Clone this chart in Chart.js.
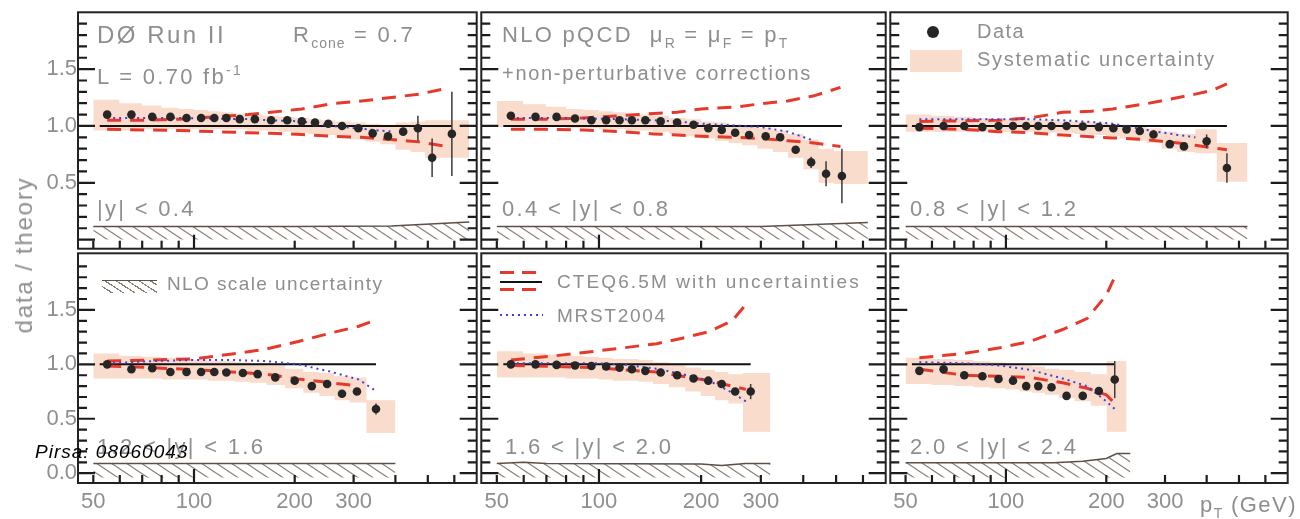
<!DOCTYPE html>
<html>
<head>
<meta charset="utf-8">
<script src="https://cdn.jsdelivr.net/npm/chart.js@4.4.1/dist/chart.umd.min.js"></script>
<style>
  body { margin: 0; background: #fff; }
  #wrap { position: relative; width: 1300px; height: 519px; overflow: hidden;
          font-family: "Liberation Sans", Arial, sans-serif; color: #8e8e8e; }
  canvas { position: absolute; }
  .t { position: absolute; white-space: nowrap; line-height: 1; }
  .lg { position: absolute; }
</style>
</head>
<body>
<div id="wrap"></div>
<script>
// ---- data (data / theory vs jet pT in GeV) ----
// |y| < 0.4
const p1Pt     = [55,65,75,85,95,105,115,125,137,152,170,190,210,230,252,277,310,342,380,422,467,515,590];
const p1Ratio  = [1.10,1.10,1.08,1.08,1.07,1.07,1.07,1.07,1.06,1.06,1.05,1.05,1.04,1.03,1.02,1.00,0.98,0.935,0.91,0.95,0.98,0.72,0.93];
const p1Stat   = [0.004,0.004,0.004,0.004,0.004,0.004,0.004,0.004,0.004,0.004,0.005,0.005,0.005,0.006,0.006,0.008,0.01,0.012,0.015,0.03,0.11,0.17,0.37];
const p1SysHi  = [1.23,1.20,1.18,1.16,1.15,1.14,1.13,1.12,1.11,1.10,1.09,1.08,1.07,1.06,1.05,1.04,1.03,1.02,1.01,1.03,1.04,1.05,1.05];
const p1SysLo  = [0.96,0.96,0.97,0.97,0.97,0.97,0.97,0.97,0.97,0.96,0.96,0.95,0.94,0.93,0.92,0.90,0.88,0.86,0.84,0.79,0.77,0.72,0.72];
const p1Edges  = [50, 665];
const p1ThX    = [55,70,90,115,145,170,210,258,317,389,470,570];
const p1CteqHi = [1.05,1.05,1.06,1.08,1.10,1.12,1.15,1.195,1.22,1.25,1.28,1.33];
const p1CteqLo = [0.97,0.965,0.96,0.95,0.94,0.935,0.925,0.91,0.90,0.88,0.86,0.82];
const p1Mrst   = [1.07,1.07,1.07,1.065,1.06,1.05,1.04,1.0,0.975,0.95,null,null];
const p1ScaleX = [50,200,389,665];
const p1ScaleTop = [0.115,0.115,0.12,0.155];

// 0.4 < |y| < 0.8
const p2Pt     = [55,65,75,85,95,105,115,125,137,152,170,190,210,230,252,277,310,342,380,422,467,520];
const p2Ratio  = [1.09,1.08,1.08,1.065,1.05,1.05,1.05,1.05,1.05,1.04,1.03,1.01,0.98,0.965,0.94,0.92,0.91,0.90,0.79,0.68,0.58,0.56];
const p2Stat   = [0.004,0.004,0.004,0.004,0.004,0.004,0.004,0.004,0.004,0.005,0.005,0.005,0.006,0.006,0.008,0.01,0.012,0.015,0.02,0.05,0.11,0.24];
const p2SysHi  = [1.22,1.19,1.17,1.15,1.14,1.13,1.12,1.11,1.10,1.09,1.07,1.06,1.04,1.03,1.01,1.00,0.98,0.96,0.93,0.88,0.80,0.78];
const p2SysLo  = [0.99,0.99,0.99,0.98,0.98,0.97,0.97,0.96,0.96,0.95,0.93,0.91,0.89,0.87,0.85,0.83,0.80,0.77,0.72,0.62,0.50,0.49];
const p2Edges  = [50, 620];
const p2ThX    = [55,70,90,115,145,170,200,250,300,360,430,515];
const p2CteqHi = [1.06,1.06,1.07,1.09,1.11,1.12,1.15,1.165,1.195,1.22,1.265,1.34];
const p2CteqLo = [0.97,0.97,0.965,0.95,0.93,0.92,0.91,0.90,0.89,0.87,0.85,0.82];
const p2Mrst   = [1.07,1.07,1.065,1.06,1.05,1.04,1.02,1.005,0.99,0.95,0.87,null];
const p2ScaleX = [50,300,620];
const p2ScaleTop = [0.115,0.115,0.15];

// 0.8 < |y| < 1.2
const p3Pt     = [55,65,75,85,95,105,115,125,137,152,170,190,210,230,252,277,310,342,400,460];
const p3Ratio  = [0.99,1.0,1.0,0.99,1.0,1.0,1.0,1.0,1.0,1.0,0.995,0.99,0.98,0.97,0.955,0.925,0.84,0.82,0.865,0.63];
const p3Stat   = [0.004,0.004,0.004,0.004,0.004,0.004,0.004,0.004,0.004,0.005,0.005,0.005,0.006,0.007,0.008,0.01,0.012,0.02,0.06,0.13];
const p3SysHi  = [1.10,1.09,1.08,1.07,1.06,1.06,1.05,1.05,1.05,1.04,1.04,1.03,1.02,1.01,1.0,0.98,0.95,0.93,0.97,0.85];
const p3SysLo  = [0.95,0.95,0.95,0.95,0.95,0.95,0.95,0.95,0.94,0.94,0.93,0.92,0.91,0.89,0.87,0.85,0.80,0.77,0.76,0.51];
const p3Edges  = [50, 530];
const p3ThX    = [55,75,95,118,148,180,209,263,329,370,412,460];
const p3CteqHi = [1.04,1.045,1.05,1.07,1.12,1.13,1.15,1.195,1.25,1.28,1.31,1.37];
const p3CteqLo = [0.98,0.97,0.95,0.94,0.92,0.905,0.895,0.88,0.85,0.83,0.81,0.79];
const p3Mrst   = [1.06,1.06,1.06,1.06,1.05,1.035,1.02,0.965,0.92,0.90,null,null];
const p3ScaleX = [50,530];
const p3ScaleTop = [0.115,0.115];

// 1.2 < |y| < 1.6
const p4Pt     = [55,65,75,85,95,105,115,125,140,155,175,200,225,250,277,307,350];
const p4Ratio  = [1.0,0.955,0.965,0.93,0.93,0.93,0.93,0.925,0.92,0.91,0.88,0.85,0.80,0.82,0.73,0.75,0.59];
const p4Stat   = [0.004,0.004,0.004,0.004,0.004,0.004,0.005,0.005,0.005,0.006,0.006,0.008,0.01,0.01,0.015,0.02,0.05];
const p4SysHi  = [1.10,1.08,1.07,1.06,1.05,1.04,1.03,1.03,1.02,1.01,0.99,0.96,0.93,0.92,0.89,0.88,0.67];
const p4SysLo  = [0.87,0.87,0.87,0.86,0.86,0.86,0.85,0.85,0.84,0.83,0.81,0.78,0.74,0.71,0.67,0.65,0.37];
const p4Edges  = [50, 400];
const p4ThX    = [55,75,100,130,164,205,258,311,352];
const p4CteqHi = [1.03,1.04,1.05,1.095,1.14,1.21,1.29,1.35,1.41];
const p4CteqLo = [0.985,0.97,0.95,0.93,0.91,0.865,0.83,0.80,null];
const p4Mrst   = [1.01,1.03,1.04,1.04,1.03,1.0,0.93,0.86,0.75];
const p4ScaleX = [50,400];
const p4ScaleTop = [0.09,0.09];

// 1.6 < |y| < 2.0
const p5Pt     = [55,65,75,85,95,105,115,125,137,152,170,190,210,230,252,280];
const p5Ratio  = [1.0,1.0,0.995,0.99,0.985,0.98,0.97,0.955,0.94,0.925,0.90,0.87,0.85,0.82,0.75,0.75];
const p5Stat   = [0.004,0.004,0.004,0.004,0.004,0.005,0.005,0.005,0.006,0.006,0.007,0.008,0.01,0.012,0.015,0.07];
const p5SysHi  = [1.12,1.10,1.09,1.08,1.07,1.06,1.05,1.05,1.04,1.02,1.0,0.97,0.95,0.93,0.91,0.92];
const p5SysLo  = [0.88,0.88,0.88,0.87,0.87,0.86,0.85,0.85,0.84,0.82,0.79,0.75,0.71,0.67,0.64,0.38];
const p5Edges  = [50, 320];
const p5ThX    = [55,75,97,117,148,176,211,247,271];
const p5CteqHi = [1.04,1.08,1.12,1.15,1.19,1.24,1.30,1.40,1.55];
const p5CteqLo = [0.99,0.98,0.97,0.95,0.93,0.89,0.85,0.80,0.77];
const p5Mrst   = [1.01,1.01,1.01,1.0,0.96,0.91,0.85,0.74,0.66];
const p5ScaleX = [50,60,70,200,230,270,320];
const p5ScaleTop = [0.09,0.10,0.09,0.085,0.07,0.09,0.09];

// 2.0 < |y| < 2.4
const p6Pt     = [55,65,75,85,95,105,115,125,137,152,170,190,212];
const p6Ratio  = [0.94,0.955,0.90,0.89,0.865,0.85,0.80,0.80,0.79,0.71,0.71,0.755,0.86];
const p6Stat   = [0.006,0.006,0.006,0.007,0.007,0.008,0.008,0.009,0.01,0.012,0.015,0.02,0.17];
const p6SysHi  = [1.06,1.05,1.04,1.03,1.02,1.0,0.99,0.98,0.96,0.95,0.93,0.91,1.03];
const p6SysLo  = [0.82,0.81,0.80,0.79,0.78,0.77,0.75,0.74,0.72,0.69,0.66,0.62,0.38];
const p6Edges  = [50, 230];
const p6ThX    = [55,75,95,118,148,175,200,214];
const p6CteqHi = [1.06,1.10,1.15,1.21,1.32,1.42,1.635,1.83];
const p6CteqLo = [0.955,0.90,0.89,0.88,0.83,0.78,0.72,0.63];
const p6Mrst   = [1.02,1.01,0.99,0.95,0.87,0.80,0.66,0.58];
const p6ScaleX = [50,139,170,200,215,236];
const p6ScaleTop = [0.095,0.095,0.11,0.135,0.18,0.18];

const yBinLabels = ['|y| &lt; 0.4', '0.4 &lt; |y| &lt; 0.8', '0.8 &lt; |y| &lt; 1.2',
                    '1.2 &lt; |y| &lt; 1.6', '1.6 &lt; |y| &lt; 2.0', '2.0 &lt; |y| &lt; 2.4'];
const xTickLabels = [50, 100, 200, 300];
const xTickMarks = [50, 60, 70, 80, 90, 100, 200, 300, 400, 500, 600];
const yTickMarks = [0.0,0.1,0.2,0.3,0.4,0.5,0.6,0.7,0.8,0.9,1.0,1.1,1.2,1.3,1.4,1.5,1.6,1.7,1.8,1.9];
const yTickLabels = [[0.5, 1.0, 1.5], [0.0, 0.5, 1.0, 1.5]];
const hatchBase = [0.0, -0.04];

// ---- layout ----
const colLeft = [78, 479, 888], colRight = [479, 888, 1290];
const rowTop = [10, 251], rowBottom = [251, 483];
const yRange = [[-0.08, 2.0], [-0.09, 2.02]];
const FONT = '"Liberation Sans", Arial, sans-serif';
const RED = '#e6392b', BLUE = '#3f3fe0', PEACH = '#f9dccb', HATCH = '#8b7d73';

const panels = [
  [p1Pt,p1Ratio,p1Stat,p1SysHi,p1SysLo,p1Edges,p1ThX,p1CteqHi,p1CteqLo,p1Mrst,p1ScaleX,p1ScaleTop],
  [p2Pt,p2Ratio,p2Stat,p2SysHi,p2SysLo,p2Edges,p2ThX,p2CteqHi,p2CteqLo,p2Mrst,p2ScaleX,p2ScaleTop],
  [p3Pt,p3Ratio,p3Stat,p3SysHi,p3SysLo,p3Edges,p3ThX,p3CteqHi,p3CteqLo,p3Mrst,p3ScaleX,p3ScaleTop],
  [p4Pt,p4Ratio,p4Stat,p4SysHi,p4SysLo,p4Edges,p4ThX,p4CteqHi,p4CteqLo,p4Mrst,p4ScaleX,p4ScaleTop],
  [p5Pt,p5Ratio,p5Stat,p5SysHi,p5SysLo,p5Edges,p5ThX,p5CteqHi,p5CteqLo,p5Mrst,p5ScaleX,p5ScaleTop],
  [p6Pt,p6Ratio,p6Stat,p6SysHi,p6SysLo,p6Edges,p6ThX,p6CteqHi,p6CteqLo,p6Mrst,p6ScaleX,p6ScaleTop]
];

function hatchPattern() {
  const c = document.createElement('canvas');
  c.width = 15; c.height = 10;
  const g = c.getContext('2d');
  g.strokeStyle = HATCH; g.lineWidth = 1.1;
  for (const k of [-1, 0, 1]) {
    g.beginPath(); g.moveTo(k * 15 - 15, -10); g.lineTo(k * 15 + 30, 20); g.stroke();
  }
  return g.createPattern(c, 'repeat');
}
const hatch = hatchPattern();

// error bars before the data points; inward ticks and frame after all datasets
const framePlugin = {
  id: 'frameTicks',
  beforeDatasetDraw(chart, args) {
    const ds = chart.data.datasets[args.index];
    if (!ds.isData) return;
    const xs = chart.scales.x, ys = chart.scales.y, ctx = chart.ctx;
    ctx.save();
    ctx.strokeStyle = '#3a3a3a'; ctx.lineWidth = 1.5;
    ds.data.forEach(d => {
      const px = xs.getPixelForValue(d.x);
      ctx.beginPath();
      ctx.moveTo(px, ys.getPixelForValue(d.y - d.e));
      ctx.lineTo(px, ys.getPixelForValue(d.y + d.e));
      ctx.stroke();
    });
    ctx.restore();
  },
  afterDatasetsDraw(chart) {
    const xs = chart.scales.x, ys = chart.scales.y, ctx = chart.ctx, a = chart.chartArea;
    const L = a.left, R = a.right, T = a.top, B = a.bottom;
    ctx.save();
    ctx.strokeStyle = '#1c1c1c'; ctx.lineWidth = 2.2;
    yTickMarks.forEach((v, i) => {
      const py = ys.getPixelForValue(v);
      const len = i % 5 === 0 ? 17 : 9;
      ctx.beginPath();
      ctx.moveTo(L, py); ctx.lineTo(L + len, py);
      ctx.moveTo(R, py); ctx.lineTo(R - len, py);
      ctx.stroke();
    });
    xTickMarks.forEach(v => {
      const px = xs.getPixelForValue(v);
      const len = v === 100 ? 14 : 8;
      ctx.beginPath();
      ctx.moveTo(px, B); ctx.lineTo(px, B - len);
      ctx.stroke();
    });
    ctx.lineWidth = 2; ctx.strokeStyle = '#222';
    ctx.strokeRect(L, T, R - L, B - T);
    ctx.restore();
  }
};

function pts(xs, ys) { return xs.map((x, i) => ({ x: x, y: ys[i] })); }

function makePanel(idx) {
  const col = idx % 3, row = Math.floor(idx / 3);
  const [pt, ratio, stat, sysHi, sysLo, edges, thX, cteqHi, cteqLo, mrst, scaleX, scaleTop] = panels[idx];
  const n = pt.length;
  const sysX = [edges[0], ...pt, edges[1]];
  const base = hatchBase[row];

  const cx = col === 0 ? 0 : colLeft[col] - 2;
  const cy = rowTop[row] - 2;
  const cw = colRight[col] + 2 - cx;
  const ch = (row === 1 ? 519 : rowBottom[row] + 2) - cy;
  const canvas = document.createElement('canvas');
  canvas.width = cw; canvas.height = ch;
  canvas.style.left = cx + 'px'; canvas.style.top = cy + 'px';
  document.getElementById('wrap').appendChild(canvas);

  new Chart(canvas, {
    type: 'line',
    data: {
      datasets: [
        { data: scaleX.map(x => ({ x: x, y: base })), borderWidth: 0, pointRadius: 0, fill: false, order: 6 },
        { data: pts(scaleX, scaleTop), borderColor: '#5b4f47', borderWidth: 1.5, pointRadius: 0,
          fill: '-1', backgroundColor: hatch, order: 6 },
        { data: pts(sysX, [sysLo[0], ...sysLo, sysLo[n - 1]]), borderWidth: 0, pointRadius: 0,
          stepped: 'middle', fill: false, order: 5 },
        { data: pts(sysX, [sysHi[0], ...sysHi, sysHi[n - 1]]), borderWidth: 0, pointRadius: 0,
          stepped: 'middle', fill: '-1', backgroundColor: PEACH, order: 5 },
        { data: [{ x: pt[0] * 0.95, y: 1 }, { x: pt[n - 1], y: 1 }], borderColor: '#111', borderWidth: 2,
          pointRadius: 0, order: 4 },
        { data: pts(thX, cteqHi), borderColor: RED, borderWidth: 3, borderDash: [14, 9], pointRadius: 0, order: 3 },
        { data: pts(thX, cteqLo), borderColor: RED, borderWidth: 3, borderDash: [14, 9], pointRadius: 0, order: 3 },
        { data: pts(thX, mrst), borderColor: BLUE, borderWidth: 2, borderDash: [2, 4], pointRadius: 0, order: 2 },
        { data: pt.map((x, i) => ({ x: x, y: ratio[i], e: stat[i] })), isData: true, showLine: false,
          pointRadius: 4.3, pointBorderWidth: 0, pointBackgroundColor: '#262626', order: 1 }
      ]
    },
    options: {
      responsive: false, animation: false, devicePixelRatio: 1, events: [],
      layout: { padding: { left: col === 0 ? 0 : 2, right: 2, top: 2, bottom: row === 1 ? 0 : 2 } },
      plugins: { legend: { display: false }, tooltip: { enabled: false } },
      scales: {
        x: {
          type: 'logarithmic', min: 45, max: 700,
          grid: { display: false, drawTicks: false }, border: { display: false },
          afterBuildTicks: s => { s.ticks = xTickLabels.map(v => ({ value: v })); },
          afterFit: s => { s.height = row === 1 ? 519 - rowBottom[1] : 0; s.paddingLeft = 0; s.paddingRight = 0; },
          ticks: { display: row === 1, autoSkip: false, maxRotation: 0, padding: 6, color: '#8f8f8f',
                   font: { family: FONT, size: 22 }, callback: v => String(v) }
        },
        y: {
          min: yRange[row][0], max: yRange[row][1],
          grid: { display: false, drawTicks: false }, border: { display: false },
          afterBuildTicks: s => { s.ticks = yTickLabels[row].map(v => ({ value: v })); },
          afterFit: s => { s.width = col === 0 ? colLeft[0] : 0; s.paddingTop = 0; s.paddingBottom = 0; },
          ticks: { display: col === 0, padding: 1, color: '#8f8f8f', font: { family: FONT, size: 22 },
                   callback: v => Number(v).toFixed(1) }
        }
      }
    },
    plugins: [framePlugin]
  });
}

for (let i = 0; i < 6; i++) makePanel(i);

// ---- text annotations ----
const wrap = document.getElementById('wrap');
function addText(html, left, baseline, size, spacing, style) {
  const d = document.createElement('div');
  d.className = 't';
  d.innerHTML = html;
  d.style.left = left + 'px';
  d.style.top = (baseline - 0.847 * size) + 'px';
  d.style.fontSize = size + 'px';
  d.style.letterSpacing = spacing + 'px';
  if (style) d.style.cssText += style;
  wrap.appendChild(d);
  return d;
}
function addBox(left, top, w, h, style) {
  const d = document.createElement('div');
  d.className = 'lg';
  d.style.cssText += `left:${left}px;top:${top}px;width:${w}px;height:${h}px;` + style;
  wrap.appendChild(d);
}
const sub = s => `<span style="position:relative;top:6px;font-size:14px;letter-spacing:1px">${s}</span>`;
const sup = s => `<span style="position:relative;top:-9px;font-size:14px">${s}</span>`;

addText('DØ Run II', 97, 43, 24, 2.5);
addText('R' + sub('cone') + ' = 0.7', 293, 43, 22, 2.3);
addText('L = 0.70 fb' + sup('-1'), 97, 85, 22, 2.3);
addText('NLO pQCD&nbsp; μ' + sub('R') + ' = μ' + sub('F') + ' = p' + sub('T'), 502, 43, 22, 2.3);
addText('+non-perturbative corrections', 502, 80, 20, 1.7);
addText('Data', 977, 38, 20, 1.5);
addText('Systematic uncertainty', 977, 66, 20, 1.7);
addText('NLO scale uncertainty', 167, 290, 19, 1.4);
addText('CTEQ6.5M with uncertainties', 557, 288, 19, 2.1);
addText('MRST2004', 557, 322, 19, 1.7);

const binPos = [[97, 217], [502, 217], [910, 217], [97, 455], [505, 455], [910, 455]];
yBinLabels.forEach((s, i) => addText(s, binPos[i][0], binPos[i][1], 22, 2.3));

addText('p' + sub('T') + ' (GeV)', 1200, 513, 22, 1.5);
addText('data / theory', 24, 0, 24, 1.8,
        'top:255px;transform:translate(-50%,-50%) rotate(-90deg);');

// legend symbols
addBox(927, 26, 12, 12, 'border-radius:50%;background:#262626;');
addBox(910, 50, 52, 22, `background:${PEACH};`);
addBox(102, 280, 55, 12, `border-top:1.5px solid #5b4f47;background:repeating-linear-gradient(33deg, transparent 0 5px, ${HATCH} 5px 6.2px);`);
addBox(500, 271, 42, 3, `background:repeating-linear-gradient(90deg, ${RED} 0 14px, transparent 14px 22px);`);
addBox(500, 281, 42, 2, 'background:#111;');
addBox(500, 288, 42, 3, `background:repeating-linear-gradient(90deg, ${RED} 0 14px, transparent 14px 22px);`);
addBox(500, 314, 43, 2, `background:repeating-linear-gradient(90deg, ${BLUE} 0 2px, transparent 2px 6px);`);

addText('Pirsa: 08060043', 35, 458, 19, 1, 'color:#000;font-style:italic;');
</script>
</body>
</html>
